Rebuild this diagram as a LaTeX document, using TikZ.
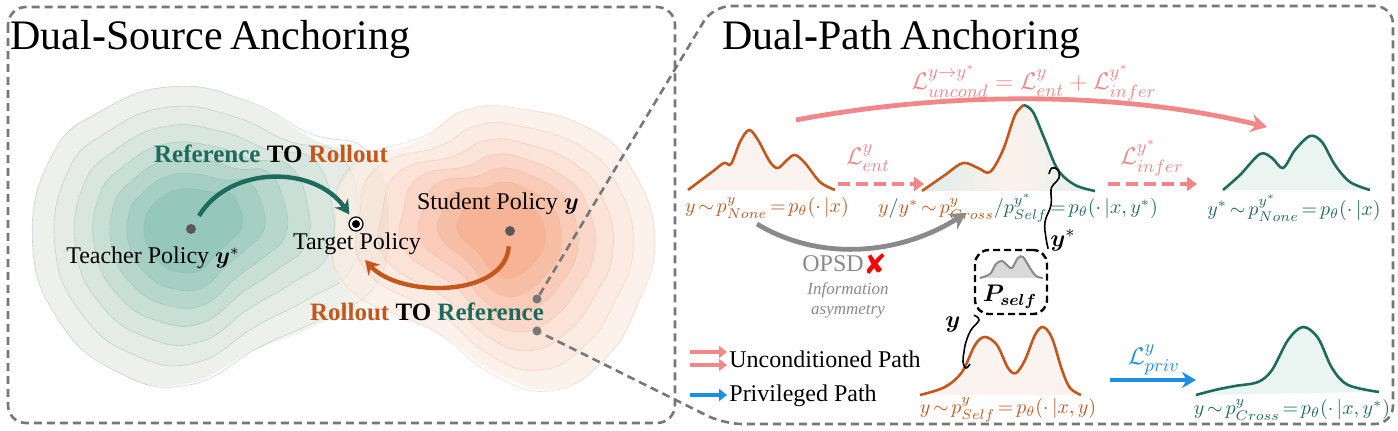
\documentclass[tikz,border=0pt]{standalone}
\usepackage{amsmath}
\usepackage{fontspec}
\setmainfont{Liberation Serif}
\newfontfamily\symfont{DejaVu Sans}
\usetikzlibrary{arrows.meta}

\definecolor{tealD}{HTML}{1E6B5E}
\definecolor{orgD}{HTML}{C4581C}
\definecolor{tealL}{HTML}{5AAE9B}
\definecolor{orgL}{HTML}{F58A5C}
\definecolor{sandT}{HTML}{F3F3EE}
\definecolor{sandO}{HTML}{FDF2EA}
\definecolor{pinkA}{HTML}{F2878A}
\definecolor{blueA}{HTML}{1A8FE3}
\definecolor{grayA}{HTML}{8A8A8A}
\definecolor{frameC}{HTML}{777777}

\tikzset{
  boxframe/.style={frameC, line width=1.3pt, dash pattern=on 4pt off 2.5pt, rounded corners=9pt},
  ttl/.style={font=\fontsize{21}{24}\selectfont, anchor=base west, inner sep=0pt},
  lbl/.style={font=\fontsize{12}{14}\selectfont, inner sep=1pt},
  blbl/.style={font=\fontsize{12.5}{14}\selectfont\bfseries, inner sep=1pt},
  mlbl/.style={font=\fontsize{10}{12}\selectfont, inner sep=1pt,
    execute at begin node={\thickmuskip=2.5mu plus 1mu\medmuskip=2mu\relax}},
  loss/.style={font=\fontsize{13}{15}\selectfont, inner sep=1pt},
  tealcont/.style={draw=tealD!50, draw opacity=0.45, line width=0.3pt, fill=tealL},
  orgcont/.style={draw=orgD!45, draw opacity=0.4, line width=0.3pt, fill=orgL},
  bigarrow/.style={line width=2.2pt, -{Stealth[length=7pt,width=8pt]}},
  dasharrow/.style={pinkA, line width=2.4pt, dash pattern=on 6pt off 3pt, -{Triangle[length=5pt,width=7pt]}},
  dot/.style={circle, fill=#1, inner sep=0pt, minimum size=5pt},
  dot/.default=gray,
  hookline/.style={black, line width=0.8pt},
}
\newcommand{\dcurve}[3]{%
  \fill[#2] plot[smooth, tension=0.55] coordinates {#3} -- cycle;
  \draw[#1] plot[smooth, tension=0.55] coordinates {#3};}
\newcommand{\tealblob}[1]{%
  \filldraw[#1] plot[smooth cycle, tension=0.8] coordinates {(-7,-142) (68,-123) (128,-88) (185,-66) (201,2) (185,67) (131,97) (68,122) (-7,157) (-77,140) (-132,87) (-155,7) (-132,-78) (-82,-120)};}
\newcommand{\orgblob}[1]{%
  \filldraw[#1] plot[smooth cycle, tension=0.8] coordinates {(8,-124) (80,-107) (125,-67) (150,1) (135,68) (105,123) (55,156) (-5,143) (-65,103) (-155,63) (-170,-2) (-155,-60) (-85,-92) (-45,-120)};}

\begin{document}
\begin{tikzpicture}[x=0.5pt, y=-0.5pt]
\useasboundingbox (0,0) rectangle (1398,431);

% contour landscape
\tealblob{draw=none, fill=sandT, shift={(187,228)}}
\foreach \s [count=\k] in {1,0.86,0.73,0.61,0.5,0.39,0.28}{
  \tealblob{tealcont, fill opacity=0.03*\k, shift={(187,228)}, scale=\s, rotate=3*\k}
}
\orgblob{draw=none, fill=sandO, fill opacity=0.7, shift={(505,232)}}
\foreach \s [count=\k] in {1,0.86,0.73,0.61,0.5,0.39,0.28}{
  \orgblob{orgcont, fill opacity=0.03*\k, shift={(505,232)}, scale=\s, rotate=-3*\k}
}

\node[dot=gray!70!black] (TD) at (191,229) {};
\node[dot=gray!70!black] (SD) at (510,231) {};
\node[circle, draw=black, fill=white, line width=0.6pt, inner sep=0pt, minimum size=7pt] (TG) at (356,224) {};
\fill (TG.center) circle (2pt);
\coordinate (TA) at (365,260);

\node[lbl] (TT) at (153,258) {Teacher Policy $\boldsymbol{y}^{*}$};
\node[lbl] (TGT) at (357,244) {Target Policy};
\node[lbl] (ST) at (498,204) {Student Policy $\boldsymbol{y}$};
\node[blbl] (RR) at (271,154) {\textcolor{tealD}{Reference} TO \textcolor{orgD}{Rollout}};
\node[blbl] (RF) at (427,312) {\textcolor{orgD}{Rollout} TO \textcolor{tealD}{Reference}};

\draw[bigarrow, tealD, shorten <=5pt, shorten >=2pt] (TD) .. controls (230,165) and (315,165) .. (TG);
\draw[bigarrow, orgD, shorten <=5pt] (SD) .. controls (505,298) and (400,298) .. (TA);

% frames
\draw[boxframe] (8,7) rectangle (675,423);
\node[dot=frameC, minimum size=4.5pt] (Z1) at (537,299) {};
\node[dot=frameC, minimum size=4.5pt] (Z2) at (537,331) {};
\draw[boxframe] (Z1) -- (713,6) -- (1393,6) -- (1393,424) -- (724,424) -- (Z2);

\node[ttl] (T1) at (10,50) {Dual\textbf{-}Source\hspace{4pt}Anchoring};
\node[ttl] (T2) at (722,50) {Dual\textbf{-}Path\hspace{4pt}Anchoring};

% distributions
\dcurve{orgD, line width=1.3pt}{orgD!7}{(688,190) (712,172) (724,163) (731,164) (740,142) (749,130) (758,140) (770,162) (778,168) (787,160) (795,155) (805,163) (820,182) (835,190)}
\shade[left color=tealL!22!white, right color=tealL!18!white, middle color=orgL!12!white] plot[smooth, tension=0.55] coordinates {(922,191) (945,175) (963,163) (978,168) (990,172) (1003,150) (1015,115) (1024,105) (1033,112) (1045,140) (1058,170) (1075,185) (1095,191)} -- cycle;
\draw[orgD, line width=1.3pt] plot[smooth, tension=0.55] coordinates {(922,191) (945,175) (963,163) (978,168) (990,172) (1003,150) (1015,115) (1024,105)};
\draw[tealD, line width=1.3pt] plot[smooth, tension=0.55] coordinates {(1024,105) (1033,112) (1045,140) (1058,170) (1075,185) (1095,191)};
\dcurve{tealD, line width=1.3pt}{tealL!13!white}{(1223,190) (1240,175) (1260,154) (1272,158) (1283,168) (1295,150) (1310,136) (1322,142) (1335,165) (1350,182) (1370,190)}
\dcurve{orgD, line width=1.3pt}{orgD!7}{(920,395) (945,387) (962,372) (975,345) (985,337) (997,345) (1008,368) (1016,373) (1025,360) (1035,335) (1043,327) (1052,338) (1062,370) (1070,388) (1081,395)}
\dcurve{tealD, line width=1.3pt}{tealL!13!white}{(1196,395) (1215,390) (1235,386) (1258,382) (1272,370) (1288,340) (1303,327) (1318,338) (1332,368) (1348,385) (1379,392)}

\node[mlbl, text=orgD] (L1) at (767,208) {$y\sim p^{y}_{None}=p_\theta(\cdot\,|x)$};
\node[mlbl, text=tealD] (L2) at (1018,208) {$\color{orgD}y\color{tealD}/\color{orgD}y^{*}\sim p^{y}_{Cross}\color{tealD}/p^{y^{*}}_{Self}=p_\theta(\cdot\,|x,y^{*})$};
\node[mlbl, text=tealD] (L3) at (1294,208) {$y^{*}\sim p^{y^{*}}_{None}=p_\theta(\cdot\,|x)$};
\node[mlbl, text=orgD] (L4) at (1008,410) {$y\sim p^{y}_{Self}=p_\theta(\cdot\,|x,y)$};
\node[mlbl, text=tealD] (L5) at (1292,410) {$y\sim p^{y}_{Cross}=p_\theta(\cdot\,|x,y^{*})$};

% paths
\coordinate (A1) at (838,184);
\coordinate (A2) at (924,184);
\coordinate (A3) at (1108,184);
\coordinate (A4) at (1197,184);
\coordinate (U1) at (796,120);
\coordinate (U2) at (1267,127);
\coordinate (G1) at (757,224);
\coordinate (G2) at (966,213);
\coordinate (B1) at (1110,380);
\coordinate (B2) at (1196,380);
\draw[dasharrow] (A1) -- (A2);
\draw[dasharrow] (A3) -- (A4);
\draw[pinkA, line width=2.4pt, -{Stealth[length=8pt,width=9pt]}] (U1) .. controls (950,91) and (1120,91) .. (U2);
\draw[grayA, line width=2.4pt, -{Stealth[length=8pt,width=9pt]}] (G1) .. controls (820,262) and (900,255) .. (G2);
\draw[blueA, line width=2.4pt, -{Stealth[length=7pt,width=8pt]}] (B1) -- (B2);

\node[loss, text=pinkA] (LE) at (868,158) {$\mathcal{L}^{y}_{ent}$};
\node[loss, text=pinkA] (LI) at (1152,158) {$\mathcal{L}^{y^{*}}_{infer}$};
\node[loss, text=pinkA, font=\fontsize{12.5}{15}\selectfont] (LU) at (1034,83) {$\mathcal{L}^{y\rightarrow y^{*}}_{uncond}=\mathcal{L}^{y}_{ent}+\mathcal{L}^{y^{*}}_{infer}$};
\node[loss, text=blueA] (LP) at (1154,360) {$\mathcal{L}^{y}_{priv}$};

\node[lbl, text=grayA] (OP) at (833,264) {OPSD};
\node[text=red, font=\symfont\fontsize{14}{14}\selectfont, inner sep=0pt] (XX) at (875,264) {✘};
\node[text=grayA, font=\fontsize{8.5}{10}\selectfont\itshape, align=center, inner sep=0pt] (IA) at (848,300) {Information\\asymmetry};

% self box
\node[draw, line width=1.2pt, dash pattern=on 3.5pt off 2pt, rounded corners=7pt, minimum width=36pt, minimum height=32pt] (PB) at (1011,282) {};
\dcurve{grayA, line width=1pt}{gray!30}{(980,278) (990,274) (996,264) (1002,261) (1008,266) (1012,268) (1018,258) (1023,257) (1030,268) (1036,276) (1043,278)}
\node[loss, font=\fontsize{12}{14}\selectfont] (PS) at (1010,297) {$\boldsymbol{P_{self}}$};
\draw[hookline] plot[smooth, tension=0.7] coordinates {(PB.north east) (1046,238) (1045,222) (1051,205) (1051,190) (1054,184) (1059,178) (1058,170) (1052,168) (1049,174)};
\draw[hookline] plot[smooth, tension=0.7] coordinates {(PB.south west) (979,320) (971,330) (966,342) (964,352) (963,362) (966,368) (970,364)};
\node[loss] (YS) at (1063,240) {$\boldsymbol{y}^{*}$};
\node[loss] (YB) at (953,325) {$\boldsymbol{y}$};

% legend
\node[lbl, anchor=west] (UP) at (727,359) {Unconditioned Path};
\node[lbl, anchor=west] (PP) at (727,396) {Privileged Path};
\coordinate (K1) at (690,352);
\coordinate (K2) at (690,365);
\coordinate (K3) at (690,395);
\draw[pinkA, line width=1.8pt, -{Triangle[length=4pt,width=6pt]}] (K1) -- (K1 -| UP.west);
\draw[pinkA, line width=1.8pt, -{Triangle[length=4pt,width=6pt]}] (K2) -- (K2 -| UP.west);
\draw[blueA, line width=1.8pt, -{Triangle[length=4pt,width=6pt]}] (K3) -- (K3 -| PP.west);
\end{tikzpicture}
\end{document}
